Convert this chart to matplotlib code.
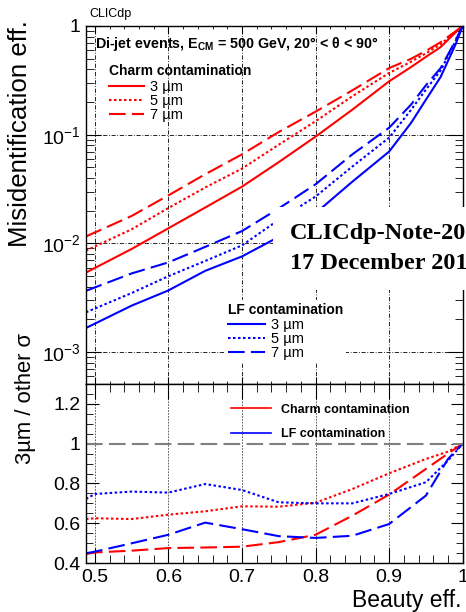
import numpy as np
import matplotlib
matplotlib.use('Agg')
import matplotlib.pyplot as plt
from matplotlib.lines import Line2D
from matplotlib.patches import Rectangle
from matplotlib.ticker import MultipleLocator, LogLocator, FuncFormatter, NullFormatter

plt.rcParams['font.family'] = ['Liberation Sans', 'DejaVu Sans']
plt.rcParams['mathtext.fontset'] = 'custom'
plt.rcParams['mathtext.rm'] = 'Liberation Sans'
plt.rcParams['mathtext.it'] = 'Liberation Sans:italic'
plt.rcParams['mathtext.bf'] = 'Liberation Sans:bold'

# misidentification vs beauty efficiency
beauty_eff = [0.488, 0.55, 0.6, 0.65, 0.7, 0.75, 0.8, 0.85, 0.9, 0.93, 0.95, 0.97, 0.99, 1.0]
charm_3um = [0.0054, 0.0089, 0.0138, 0.0214, 0.0333, 0.056, 0.096, 0.17, 0.31, 0.42, 0.52, 0.64, 0.87, 1.0]
charm_5um = [0.0086, 0.0135, 0.0212, 0.0327, 0.0488, 0.081, 0.133, 0.226, 0.37, 0.47, 0.56, 0.68, 0.88, 1.0]
charm_7um = [0.0116, 0.0179, 0.0277, 0.0433, 0.066, 0.106, 0.163, 0.256, 0.41, 0.50, 0.59, 0.71, 0.89, 1.0]
lf_3um = [0.00167, 0.00268, 0.0037, 0.0056, 0.0076, 0.0115, 0.019, 0.037, 0.070, 0.129, 0.21, 0.34, 0.67, 1.0]
lf_5um = [0.00233, 0.0035, 0.0050, 0.0069, 0.0096, 0.0165, 0.027, 0.051, 0.094, 0.17, 0.26, 0.39, 0.72, 1.0]
lf_7um = [0.00367, 0.0053, 0.0067, 0.0093, 0.013, 0.021, 0.035, 0.066, 0.116, 0.19, 0.285, 0.41, 0.73, 1.0]

# ratio 3um / other
ratio_x = [0.488, 0.5, 0.55, 0.6, 0.65, 0.7, 0.75, 0.8, 0.85, 0.9, 0.95, 0.98, 1.0]
charm_3v5 = [0.621, 0.625, 0.621, 0.643, 0.66, 0.685, 0.683, 0.703, 0.772, 0.851, 0.923, 0.96, 1.0]
charm_3v7 = [0.445, 0.453, 0.462, 0.475, 0.478, 0.482, 0.505, 0.542, 0.638, 0.744, 0.873, 0.95, 1.0]
lf_3v5 = [0.722, 0.747, 0.759, 0.754, 0.797, 0.767, 0.705, 0.70, 0.70, 0.747, 0.806, 0.915, 1.0]
lf_3v7 = [0.449, 0.457, 0.499, 0.542, 0.603, 0.57, 0.535, 0.526, 0.537, 0.596, 0.739, 0.923, 1.0]

res_labels = ['3 µm', '5 µm', '7 µm']

W, H = 466, 612
DOT = (0, (1.2, 1.2))
DASH = (0, (8, 3))
styles = ['-', DOT, DASH]

fig = plt.figure(figsize=(W / 100, H / 100), dpi=100)
ax1 = fig.add_axes([86 / W, 1 - 384 / H, 376.7 / W, 358 / H])
ax2 = fig.add_axes([86 / W, 1 - 563 / H, 376.7 / W, 179 / H])

for ys, ls in zip([charm_3um, charm_5um, charm_7um], styles):
    ax1.plot(beauty_eff, ys, color='red', lw=1.5, ls=ls)
for ys, ls in zip([lf_3um, lf_5um, lf_7um], styles):
    ax1.plot(beauty_eff, ys, color='blue', lw=1.5, ls=ls)

ax1.set_yscale('log')
ax1.set_xlim(0.488, 1.0)
ax1.set_ylim(5.1e-4, 1.0)
ax1.xaxis.set_major_locator(MultipleLocator(0.1))
ax1.xaxis.set_minor_locator(MultipleLocator(0.02))
ax1.yaxis.set_major_locator(LogLocator(base=10))
ax1.yaxis.set_minor_locator(LogLocator(base=10, subs=np.arange(2, 10)))
ax1.yaxis.set_minor_formatter(NullFormatter())
ax1.yaxis.set_major_formatter(FuncFormatter(
    lambda v, p: '1' if abs(v - 1) < 1e-9 else r'$10^{%d}$' % round(np.log10(v))))
ax1.tick_params(which='both', direction='in', top=True, right=True, labelbottom=False,
                labelsize=14, pad=4)
ax1.tick_params(axis='y', which='major', length=11)
ax1.tick_params(axis='y', which='minor', length=6)
ax1.tick_params(axis='x', which='major', length=5)
ax1.tick_params(axis='x', which='minor', length=2.5)
ax1.grid(True, which='major', color='black', lw=0.6, ls=(0, (5, 2, 1, 2)))

ax2.plot(ratio_x, charm_3v5, color='red', lw=1.5, ls=DOT)
ax2.plot(ratio_x, charm_3v7, color='red', lw=1.5, ls=DASH)
ax2.plot(ratio_x, lf_3v5, color='blue', lw=1.5, ls=DOT)
ax2.plot(ratio_x, lf_3v7, color='blue', lw=1.5, ls=DASH)
ax2.axhline(1.0, color='#808080', lw=1.5, ls=(0, (8, 3)))
ax2.set_xlim(0.488, 1.0)
ax2.set_ylim(0.4, 1.3)
ax2.xaxis.set_major_locator(MultipleLocator(0.1))
ax2.xaxis.set_minor_locator(MultipleLocator(0.02))
ax2.yaxis.set_major_locator(MultipleLocator(0.2))
ax2.yaxis.set_minor_locator(MultipleLocator(0.05))
fmt = FuncFormatter(lambda v, p: '%g' % round(v, 3))
ax2.xaxis.set_major_formatter(fmt)
ax2.yaxis.set_major_formatter(fmt)
ax2.tick_params(which='both', direction='in', top=True, right=True, labelsize=14, pad=4)
ax2.tick_params(axis='x', which='major', length=11)
ax2.tick_params(axis='x', which='minor', length=6)
ax2.tick_params(axis='y', which='major', length=9)
ax2.tick_params(axis='y', which='minor', length=5)
ax2.grid(True, axis='x', which='major', color='#444444', lw=0.6, ls=(0, (2, 1.5)))

for ax in (ax1, ax2):
    for s in ax.spines.values():
        s.set_linewidth(1.0)

# legends, top panel
charm_h = [Line2D([], [], color='red', lw=1.5, ls=ls) for ls in styles]
leg1 = ax1.legend(charm_h, res_labels, title='Charm contamination', loc='upper left',
                  bbox_to_anchor=(0.062, 0.893), frameon=False, fontsize=10.5,
                  title_fontproperties={'weight': 'bold', 'size': 10},
                  handlelength=2.4, handletextpad=0.4, labelspacing=0.0,
                  borderpad=0, borderaxespad=0)
leg1._legend_box.align = 'left'
leg1._legend_box.sep = 1
ax1.add_artist(leg1)

lf_h = [Line2D([], [], color='blue', lw=1.5, ls=ls) for ls in styles]
leg2 = ax1.legend(lf_h, res_labels, title='LF contamination', loc='upper left',
                  bbox_to_anchor=(0.368, 0.235), frameon=True, facecolor='white',
                  edgecolor='none', framealpha=1, fancybox=False, fontsize=10.5,
                  title_fontproperties={'weight': 'bold', 'size': 10},
                  handlelength=2.6, handletextpad=0.4, labelspacing=0.0,
                  borderpad=0.2, borderaxespad=0)
leg2._legend_box.align = 'left'
leg2._legend_box.sep = 1

# legend, bottom panel
ratio_h = [Line2D([], [], color='red', lw=1.2), Line2D([], [], color='blue', lw=1.2)]
leg3 = ax2.legend(ratio_h, ['Charm contamination', 'LF contamination'], loc='upper left',
                  bbox_to_anchor=(0.385, 0.89), frameon=False,
                  prop={'weight': 'bold', 'size': 9},
                  handlelength=3.2, handletextpad=0.8, labelspacing=1.0,
                  borderpad=0, borderaxespad=0)

ax1.text(0.024, 0.95, 'Di-jet events, E$_{\\mathregular{CM}}$ = 500 GeV, 20° < θ < 90°',
         transform=ax1.transAxes, fontsize=10.3, fontweight='bold', va='center')

fig.text(89 / W, 1 - 14 / H, 'CLICdp', fontsize=9, va='center')
fig.text(20 / W, 1 - 133.5 / H, 'Misidentification eff.', rotation=90, fontsize=18.6,
         ha='center', va='center')
fig.text(26 / W, 1 - 398 / H, '3µm / other σ', rotation=90, fontsize=15.8,
         ha='center', va='center')
fig.text(462 / W, 1 - 601 / H, 'Beauty eff.', fontsize=16.5, ha='right', va='center')

# note stamp
fig.add_artist(Rectangle((273 / W, 1 - 290 / H), (W - 273) / W, 83 / H,
                         transform=fig.transFigure, facecolor='white', edgecolor='none',
                         zorder=5))
fig.text(290 / W, 1 - 233 / H, 'CLICdp-Note-20', family='Liberation Serif',
         fontweight='bold', fontsize=17.5, va='center', zorder=6)
fig.text(290 / W, 1 - 263.5 / H, '17 December 201', family='Liberation Serif',
         fontweight='bold', fontsize=17.5, va='center', zorder=6)

fig.savefig('out.png', dpi=100)
